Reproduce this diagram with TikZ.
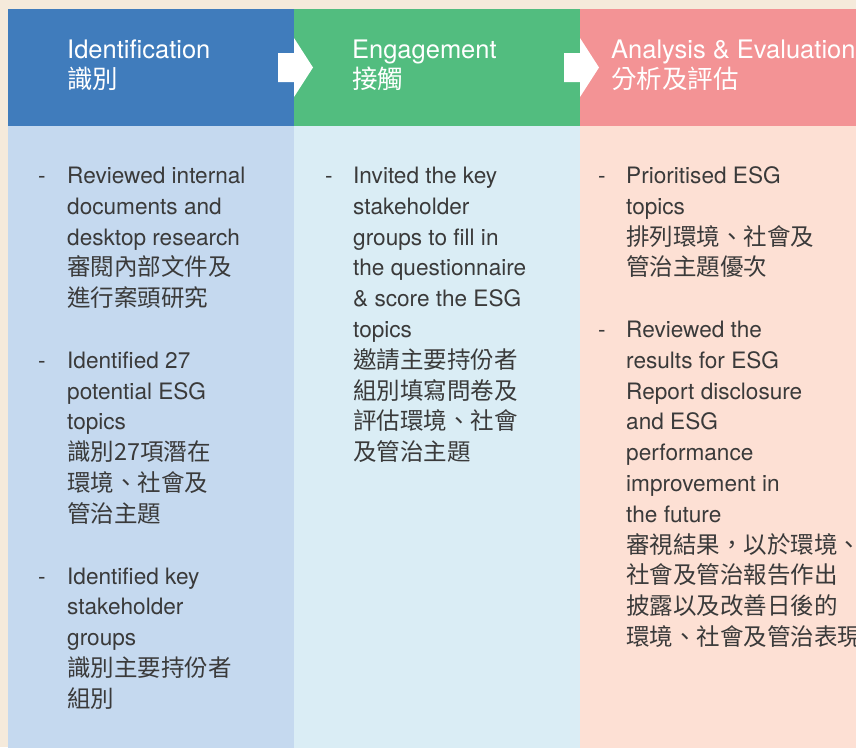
\documentclass[tikz,border=0pt]{standalone}
\usepackage{fontspec}
\setmainfont{TeX Gyre Heros}
\newfontfamily\cjkfont{Noto Sans CJK TC}
\usetikzlibrary{positioning}

\definecolor{pagebg}{HTML}{F5EADB}
\definecolor{hdblue}{HTML}{407CBC}
\definecolor{hdgreen}{HTML}{52BD7F}
\definecolor{hdpink}{HTML}{F39395}
\definecolor{bdblue}{HTML}{C5D9EF}
\definecolor{bdcyan}{HTML}{DAEDF5}
\definecolor{bdpeach}{HTML}{FDE0D4}
\definecolor{bodytext}{HTML}{3A3A3A}

\newcommand\zh[1]{{\cjkfont\fontsize{23.5}{30.8}\selectfont #1}}
\newcommand\hzh[1]{{\cjkfont\fontsize{25.5}{30}\selectfont #1}}

\tikzset{
  band/.style={rectangle, inner sep=0pt, outer sep=0pt, anchor=north west},
  headtext/.style={anchor=base west, inner sep=0pt, text=white,
    font=\fontsize{25.5}{30}\selectfont},
  bullet/.style={anchor=base west, inner sep=0pt, text=bodytext,
    font=\fontsize{22.6}{30.8}\selectfont},
  itemtext/.style={anchor=base west, inner sep=0pt, text=bodytext,
    font=\fontsize{22.6}{30.8}\selectfont},
  flowarrow/.style={fill=white, draw=none}
}

\begin{document}
\begin{tikzpicture}[x=1pt, y=-1pt]
  \useasboundingbox (0,0) rectangle (856,747);
  \clip (0,0) rectangle (856,747);
  \fill[pagebg] (0,0) rectangle (856,747);

  % column headers
  \node[band, fill=hdblue,  minimum width=286pt, minimum height=117pt] (h1) at (8,8.5) {};
  \node[band, fill=hdgreen, minimum width=286pt, minimum height=117pt] (h2) at (294,8.5) {};
  \node[band, fill=hdpink,  minimum width=276pt, minimum height=117pt] (h3) at (580,8.5) {};

  % column bodies
  \node[band, fill=bdblue,  minimum width=286pt, minimum height=622pt] (b1) at (8,125.5) {};
  \node[band, fill=bdcyan,  minimum width=286pt, minimum height=622pt] (b2) at (294,125.5) {};
  \node[band, fill=bdpeach, minimum width=276pt, minimum height=622pt] (b3) at (580,125.5) {};

  % step arrows between headers
  \fill[flowarrow] (278,53) -- (294,53) -- (294,38) -- (313,67.5) -- (294,97) -- (294,82) -- (278,82) -- cycle;
  \fill[flowarrow] (564,53) -- (580,53) -- (580,38) -- (599,67.5) -- (580,97) -- (580,82) -- (564,82) -- cycle;

  % header titles
  \node[headtext] (t1) at (67,58.3) {\parbox[t]{300pt}{Identification\\\hzh{識別}}};
  \node[headtext] (t2) at (352,58.3) {\parbox[t]{300pt}{Engagement\\\hzh{接觸}}};
  \node[headtext] (t3) at (611,58.3) {\parbox[t]{300pt}{Analysis \& Evaluation\\\hzh{分析及評估}}};

  % first column
  \node[bullet] (d11) at (38,183.5) {-};
  \node[itemtext] (i11) at (67,183.5) {\parbox[t]{300pt}{%
    Reviewed internal\\
    documents and\\
    desktop research\\
    \zh{審閱內部文件及}\\
    \zh{進行案頭研究}}};
  \node[bullet] (d12) at (38,368.3) {-};
  \node[itemtext] (i12) at (67,368.3) {\parbox[t]{300pt}{%
    Identified 27\\
    potential ESG\\
    topics\\
    \zh{識別27項潛在}\\
    \zh{環境、社會及}\\
    \zh{管治主題}}};
  \node[bullet] (d13) at (38,584) {-};
  \node[itemtext] (i13) at (67,584) {\parbox[t]{300pt}{%
    Identified key\\
    stakeholder\\
    groups\\
    \zh{識別主要持份者}\\
    \zh{組別}}};

  % second column
  \node[bullet] (d21) at (325,183.5) {-};
  \node[itemtext] (i21) at (353,183.5) {\parbox[t]{300pt}{%
    Invited the key\\
    stakeholder\\
    groups to fill in\\
    the questionnaire\\
    \& score the ESG\\
    topics\\
    \zh{邀請主要持份者}\\
    \zh{組別填寫問卷及}\\
    \zh{評估環境、社會}\\
    \zh{及管治主題}}};

  % third column
  \node[bullet] (d31) at (598,183.5) {-};
  \node[itemtext] (i31) at (626,183.5) {\parbox[t]{300pt}{%
    Prioritised ESG\\
    topics\\
    \zh{排列環境、社會及}\\
    \zh{管治主題優次}}};
  \node[bullet] (d32) at (598,337.5) {-};
  \node[itemtext] (i32) at (626,337.5) {\parbox[t]{300pt}{%
    Reviewed the\\
    results for ESG\\
    Report disclosure\\
    and ESG\\
    performance\\
    improvement in\\
    the future\\
    \zh{審視結果，以於環境、}\\
    \zh{社會及管治報告作出}\\
    \zh{披露以及改善日後的}\\
    \zh{環境、社會及管治表現}}};
\end{tikzpicture}
\end{document}
